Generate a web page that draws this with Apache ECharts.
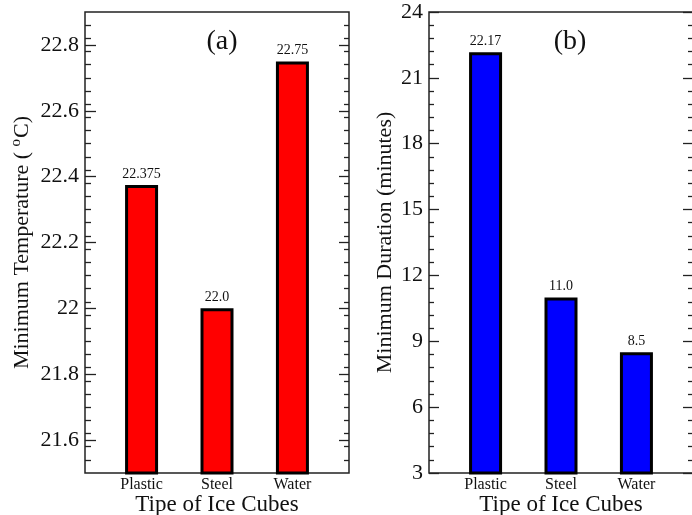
<!DOCTYPE html>
<html>
<head>
<meta charset="utf-8">
<script src="https://cdn.jsdelivr.net/npm/echarts@6/dist/echarts.min.js"></script>
<style>
html,body{margin:0;padding:0;background:#fff;}
#chart{width:692px;height:515px;}
</style>
</head>
<body>
<div id="chart"></div>
<script>
// ---- data ----
var categories = ['Plastic', 'Steel', 'Water'];
var tempValues = [22.375, 22.0, 22.75];
var tempLabels = ['22.375', '22.0', '22.75'];
var durationValues = [22.17, 11.0, 8.5];
var durationLabels = ['22.17', '11.0', '8.5'];
var tempTicks = [21.6, 21.8, 22.0, 22.2, 22.4, 22.6, 22.8];
var durationTicks = [3, 6, 9, 12, 15, 18, 21, 24];

// minor ticks for panel (a): every 0.04 between 21.5 and 22.9
var tempMinor = [];
for (var k = 1; k < 35; k++) {
  tempMinor.push(Math.round((21.5 + k * 0.04) * 100) / 100);
}

var FONT = "Liberation Serif";

var catPos = categories.map(function (c, i) { return i + 1; });
var tempData = tempValues.map(function (v, i) { return [catPos[i], v]; });
var durData = durationValues.map(function (v, i) { return [catPos[i], v]; });

function xAxis(gi) {
  return {
    type: 'value', gridIndex: gi, min: 0.25, max: 3.75,
    axisLine: { show: false },
    axisTick: { show: false },
    splitLine: { show: false },
    axisLabel: {
      customValues: catPos,
      formatter: function (v) { return categories[Math.round(v) - 1] || ''; },
      fontFamily: FONT, fontSize: 16, color: '#111', margin: 4
    },
    name: 'Tipe of Ice Cubes', nameLocation: 'middle', nameGap: 20, nameMoveOverlap: false,
    nameTextStyle: { fontFamily: FONT, fontSize: 23, color: '#111' }
  };
}

function tempAxis(pos, showLabel, ticks, len, withName) {
  var ax = {
    type: 'value', gridIndex: 0, position: pos, min: 21.5, max: 22.9,
    axisLine: { show: false },
    splitLine: { show: false },
    axisTick: { show: true, inside: true, length: len, customValues: ticks,
      lineStyle: { color: '#222', width: 1.3 } },
    axisLabel: showLabel ? {
      customValues: ticks, fontFamily: FONT, fontSize: 22, color: '#111', margin: 6,
      formatter: function (v) { return String(Math.round(v * 10) / 10); }
    } : { show: false }
  };
  if (withName) {
    ax.name = '{a|Minimum Temperature ( }{s|o}{a|C)}';
    ax.nameLocation = 'middle';
    ax.nameGap = 49;
    ax.nameMoveOverlap = false;
    ax.nameTextStyle = {
      fontFamily: FONT,
      rich: {
        a: { fontFamily: FONT, fontSize: 22, color: '#111' },
        s: { fontFamily: FONT, fontSize: 15, color: '#111', padding: [0, 1, 12, 0] }
      }
    };
  }
  return ax;
}

function durAxis(pos, showLabel, withName) {
  var ax = {
    type: 'value', gridIndex: 1, position: pos, min: 3, max: 24, interval: 3,
    axisLine: { show: false },
    splitLine: { show: false },
    axisTick: { show: true, inside: true, length: 10, lineStyle: { color: '#222', width: 1.3 } },
    minorTick: { show: true, splitNumber: 5, length: 5, lineStyle: { color: '#222', width: 1.3 } },
    axisLabel: showLabel ? {
      fontFamily: FONT, fontSize: 22, color: '#111', margin: 6,
      formatter: function (v) { return String(v); }
    } : { show: false }
  };
  if (withName) {
    ax.name = 'Minimum Duration (minutes)';
    ax.nameLocation = 'middle';
    ax.nameGap = 33;
    ax.nameMoveOverlap = false;
    ax.nameTextStyle = { fontFamily: FONT, fontSize: 22, color: '#111' };
  }
  return ax;
}

var option = {
  backgroundColor: '#fff',
  animation: false,
  textStyle: { fontFamily: FONT },
  title: [
    { text: '(a)', left: 217, top: 37, textAlign: 'center', textVerticalAlign: 'middle',
      textStyle: { fontFamily: FONT, fontSize: 28, fontWeight: 'normal', color: '#111' } },
    { text: '(b)', left: 565, top: 37, textAlign: 'center', textVerticalAlign: 'middle',
      textStyle: { fontFamily: FONT, fontSize: 28, fontWeight: 'normal', color: '#111' } }
  ],
  grid: [
    { left: 85, top: 12, width: 264, height: 461, outerBoundsMode: 'none', containLabel: false,
      show: true, borderColor: '#222', borderWidth: 1.5, backgroundColor: 'transparent' },
    { left: 429, top: 12, width: 264, height: 461, outerBoundsMode: 'none', containLabel: false,
      show: true, borderColor: '#222', borderWidth: 1.5, backgroundColor: 'transparent' }
  ],
  xAxis: [xAxis(0), xAxis(1)],
  yAxis: [
    tempAxis('left', true, tempTicks, 11, true),
    tempAxis('left', false, tempMinor, 6, false),
    tempAxis('right', false, tempTicks, 10, false),
    tempAxis('right', false, tempMinor, 5, false),
    durAxis('left', true, true),
    durAxis('right', false, false)
  ],
  series: [
    {
      type: 'bar', xAxisIndex: 0, yAxisIndex: 0, data: tempData, barWidth: 33,
      itemStyle: { color: '#ff0000', borderColor: '#000', borderWidth: 3 },
      label: { show: true, position: 'top', distance: 4, fontFamily: FONT, fontSize: 14, color: '#111',
        formatter: function (p) { return tempLabels[p.dataIndex]; } }
    },
    {
      type: 'bar', xAxisIndex: 1, yAxisIndex: 4, data: durData, barWidth: 33,
      itemStyle: { color: '#0000ff', borderColor: '#000', borderWidth: 3 },
      label: { show: true, position: 'top', distance: 4, fontFamily: FONT, fontSize: 14, color: '#111',
        formatter: function (p) { return durationLabels[p.dataIndex]; } }
    }
  ]
};

var chart = echarts.init(document.getElementById('chart'), null, { renderer: 'canvas' });
chart.setOption(option);
</script>
</body>
</html>
